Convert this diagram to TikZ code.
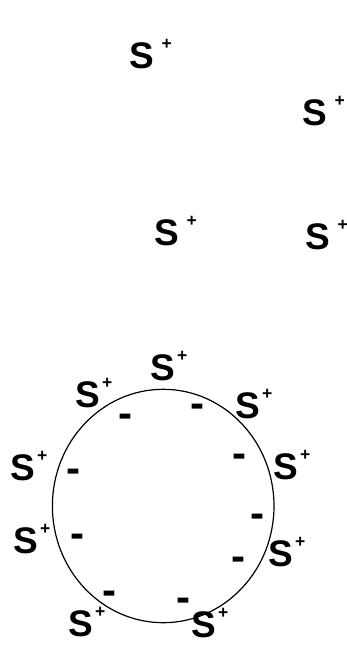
\documentclass[tikz,border=0pt]{standalone}
\usepackage{fontspec}
\setmainfont{Liberation Sans}
\begin{document}
\begin{tikzpicture}[x=1pt,y=-1pt,
  ion/.style={anchor=base west,inner sep=0pt,font=\fontsize{37}{40}\selectfont\bfseries},
  neg/.style={anchor=center,inner sep=0pt,yshift=-5pt,font=\fontsize{42}{42}\selectfont\bfseries},
  wall/.style={draw=black,line width=1.2pt}]
\newcommand{\Splus}[1][7pt]{S\hspace{#1}\raisebox{19pt}{\fontsize{17.5}{18}\selectfont +}}
\newcommand{\Sp}{\Splus[1.5pt]}
\useasboundingbox (0,0) rectangle (347,649);
% free ions
\node[ion] (f1) at (129.7,68) {\Splus};
\node[ion] (f2) at (302.7,125) {\Splus};
\node[ion] (f3) at (154.7,245) {\Splus};
\node[ion] (f4) at (305.7,249) {\Splus};
% particle
\draw[wall] (163.2,506) ellipse [x radius=110.8, y radius=116.7];
\node[ion] (a1) at (150.7,380) {\Sp};
\node[ion] (a2) at (75.7,407) {\Sp};
\node[ion] (a3) at (235.7,418) {\Sp};
\node[ion] (a4) at (10.7,480) {\Sp};
\node[ion] (a5) at (273.7,479) {\Sp};
\node[ion] (a6) at (13.7,553) {\Sp};
\node[ion] (a7) at (268.7,566) {\Sp};
\node[ion] (a8) at (68.7,636) {\Sp};
\node[ion] (a9) at (191.7,637) {\Sp};
% negative charges
\node[neg] (m1) at (125,416) {-};
\node[neg] (m2) at (197,406) {-};
\node[neg] (m3) at (73,471) {-};
\node[neg] (m4) at (239,456) {-};
\node[neg] (m5) at (257,516) {-};
\node[neg] (m6) at (77,536) {-};
\node[neg] (m7) at (238,559) {-};
\node[neg] (m8) at (109,593) {-};
\node[neg] (m9) at (183,600) {-};
\end{tikzpicture}
\end{document}
